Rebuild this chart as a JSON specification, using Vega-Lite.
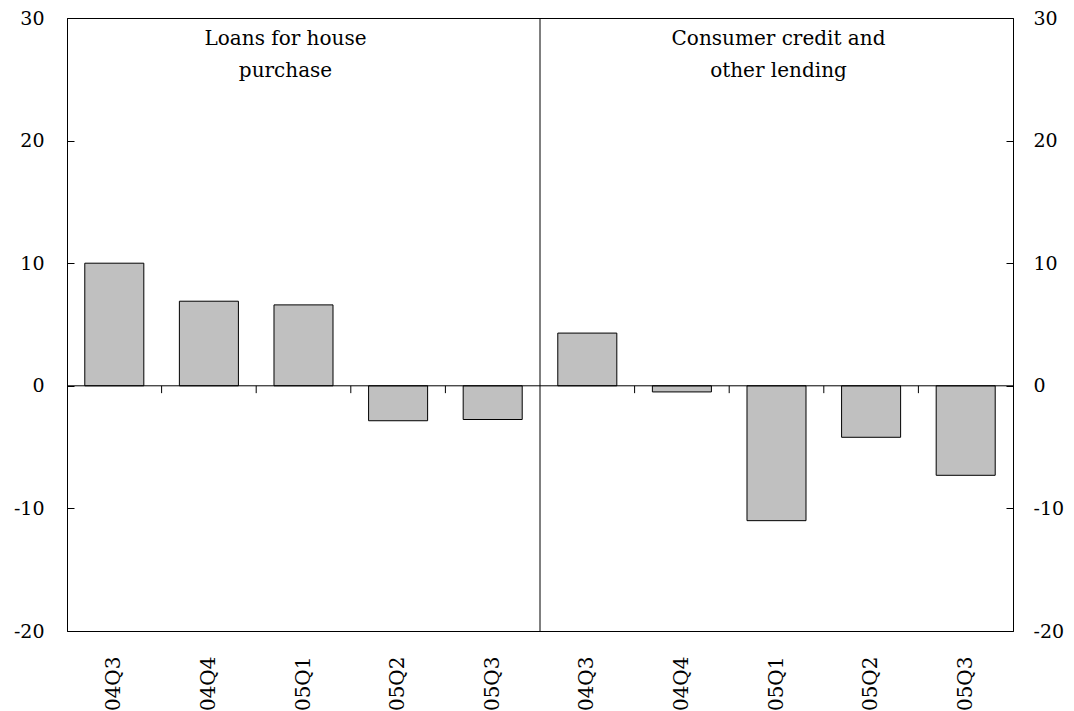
{
  "$schema": "https://vega.github.io/schema/vega-lite/v6.json",
  "width": 946,
  "height": 613,
  "autosize": {"type": "none"},
  "padding": {"left": 67, "top": 18, "right": 61, "bottom": 80},
  "background": "white",
  "config": {
    "view": {"stroke": "black", "strokeWidth": 1},
    "font": "DejaVu Serif",
    "axis": {
      "labelFont": "DejaVu Serif",
      "labelFontSize": 19,
      "labelColor": "black",
      "domainColor": "black",
      "tickColor": "black",
      "grid": false,
      "title": null
    }
  },
  "datasets": {
    "bars": [
      {"panel": "L", "slot": "L 04Q3", "quarter": "04Q3", "value": 10.0},
      {"panel": "L", "slot": "L 04Q4", "quarter": "04Q4", "value": 6.9},
      {"panel": "L", "slot": "L 05Q1", "quarter": "05Q1", "value": 6.6},
      {"panel": "L", "slot": "L 05Q2", "quarter": "05Q2", "value": -2.85},
      {"panel": "L", "slot": "L 05Q3", "quarter": "05Q3", "value": -2.75},
      {"panel": "R", "slot": "R 04Q3", "quarter": "04Q3", "value": 4.3},
      {"panel": "R", "slot": "R 04Q4", "quarter": "04Q4", "value": -0.5},
      {"panel": "R", "slot": "R 05Q1", "quarter": "05Q1", "value": -11.0},
      {"panel": "R", "slot": "R 05Q2", "quarter": "05Q2", "value": -4.2},
      {"panel": "R", "slot": "R 05Q3", "quarter": "05Q3", "value": -7.3}
    ],
    "titles": [
      {"panel": "L", "slot": "L 05Q1", "title": ["Loans for house", "purchase"]},
      {"panel": "R", "slot": "R 05Q1", "title": ["Consumer credit and", "other lending"]}
    ]
  },
  "data": {"name": "bars"},
  "resolve": {"scale": {"x": "independent"}, "axis": {"y": "independent"}},
  "layer": [
    {
      "mark": {"type": "bar", "fill": "#c0c0c0", "stroke": "black", "strokeWidth": 1},
      "encoding": {
        "x": {
          "field": "slot", "type": "nominal", "sort": null,
          "scale": {"paddingInner": 0.376, "paddingOuter": 0.188},
          "axis": {
            "orient": "bottom", "labelAngle": -90, "labelAlign": "right", "labelBaseline": "middle",
            "ticks": false, "domain": false, "labelPadding": 25, "labelFontSize": 20,
            "labelExpr": "slice(datum.label, 2)"
          }
        },
        "y": {
          "field": "value", "type": "quantitative",
          "scale": {"domain": [-20, 30], "nice": false, "zero": false},
          "axis": {
            "orient": "left", "values": [-20, -10, 0, 10, 20, 30],
            "tickSize": -7, "labelPadding": 30, "domain": true,
            "labelExpr": "'' + datum.value"
          }
        }
      }
    },
    {
      "data": {"values": [{"zero": 0}]},
      "mark": {"type": "rule", "color": "black", "strokeWidth": 1},
      "encoding": {
        "y": {
          "field": "zero", "type": "quantitative",
          "axis": {
            "orient": "right", "values": [-20, -10, 0, 10, 20, 30],
            "tickSize": -7, "labelPadding": 27, "domain": true,
            "labelExpr": "'' + datum.value"
          }
        }
      }
    },
    {
      "transform": [{"filter": "datum.quarter != '05Q3'"}],
      "mark": {"type": "rule", "color": "black", "strokeWidth": 1},
      "encoding": {
        "x": {
          "field": "slot", "type": "nominal", "sort": null, "bandPosition": 1,
          "scale": {"type": "band", "paddingInner": 0, "paddingOuter": 0, "domain": ["L 04Q3", "L 04Q4", "L 05Q1", "L 05Q2", "L 05Q3", "R 04Q3", "R 04Q4", "R 05Q1", "R 05Q2", "R 05Q3"]},
          "axis": null
        },
        "y": {"datum": 0, "type": "quantitative", "axis": null},
        "y2": {"datum": -0.6}
      }
    },
    {
      "transform": [{"filter": "datum.slot == 'L 05Q3'"}],
      "mark": {"type": "rule", "color": "black", "strokeWidth": 1},
      "encoding": {
        "x": {
          "field": "slot", "type": "nominal", "sort": null, "bandPosition": 1,
          "scale": {"type": "band", "paddingInner": 0, "paddingOuter": 0, "domain": ["L 04Q3", "L 04Q4", "L 05Q1", "L 05Q2", "L 05Q3", "R 04Q3", "R 04Q4", "R 05Q1", "R 05Q2", "R 05Q3"]},
          "axis": null
        }
      }
    },
    {
      "data": {"name": "titles"},
      "transform": [{"filter": "datum.panel == 'L'"}],
      "mark": {"type": "text", "fontSize": 20, "color": "black", "align": "center", "baseline": "alphabetic", "lineHeight": 32, "dx": -18, "dy": 27},
      "encoding": {
        "x": {
          "field": "slot", "type": "nominal", "axis": null,
          "scale": {"type": "band", "paddingInner": 0, "paddingOuter": 0, "domain": ["L 04Q3", "L 04Q4", "L 05Q1", "L 05Q2", "L 05Q3", "R 04Q3", "R 04Q4", "R 05Q1", "R 05Q2", "R 05Q3"]},
          "bandPosition": 0.5
        },
        "y": {"datum": 30, "type": "quantitative", "axis": null},
        "text": {"field": "title", "type": "nominal"}
      }
    },
    {
      "data": {"name": "titles"},
      "transform": [{"filter": "datum.panel == 'R'"}],
      "mark": {"type": "text", "fontSize": 20, "color": "black", "align": "center", "baseline": "alphabetic", "lineHeight": 32, "dx": 2, "dy": 27},
      "encoding": {
        "x": {
          "field": "slot", "type": "nominal", "axis": null,
          "scale": {"type": "band", "paddingInner": 0, "paddingOuter": 0, "domain": ["L 04Q3", "L 04Q4", "L 05Q1", "L 05Q2", "L 05Q3", "R 04Q3", "R 04Q4", "R 05Q1", "R 05Q2", "R 05Q3"]},
          "bandPosition": 0.5
        },
        "y": {"datum": 30, "type": "quantitative", "axis": null},
        "text": {"field": "title", "type": "nominal"}
      }
    }
  ]
}
